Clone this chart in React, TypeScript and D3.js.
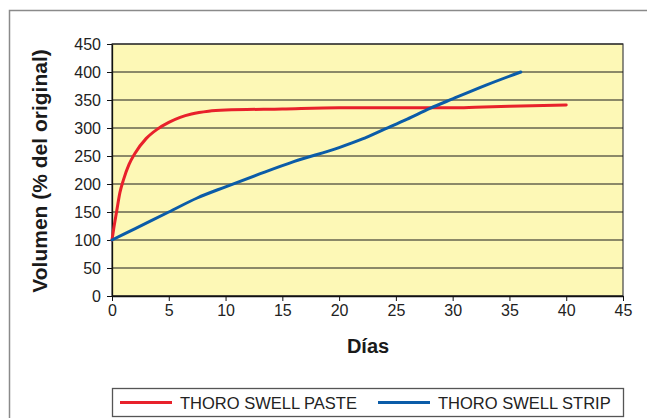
import React, { useEffect, useRef } from 'react';
import * as d3 from 'd3';

// Días / Volumen (% del original)
const pasteDays = [0, 0.15, 0.4, 0.7, 1, 1.5, 2, 3, 4, 5, 6, 7, 8.5, 10, 15, 20, 25, 30, 32, 35, 40];
const pasteVals = [100, 120, 150, 185, 207, 235, 254, 281, 298, 310, 319, 325, 330, 332, 334, 336, 336, 336, 337, 339, 341];

const stripDays = [0, 2, 5, 7.5, 10, 13, 16, 20, 22, 24, 26, 28, 30, 33, 36];
const stripVals = [100, 120, 150, 175, 195, 218, 240, 265, 280, 298, 316, 335, 352, 377, 400];

const xTicks = [0, 5, 10, 15, 20, 25, 30, 35, 40, 45];
const yTicks = [0, 50, 100, 150, 200, 250, 300, 350, 400, 450];

const seriesNames = ['THORO SWELL PASTE', 'THORO SWELL STRIP'];
const seriesColors = ['#e8212b', '#0b5ca8'];

const font = '"Liberation Sans", Arial, Helvetica, sans-serif';

const App = () => {
  const svgRef = useRef<SVGSVGElement>(null);

  useEffect(() => {
    const svg = d3.select(svgRef.current);
    svg.selectAll('*').remove();

    const margin = { left: 112, top: 44, right: 24, bottom: 122 };
    const width = 647, height = 418;
    const innerW = width - margin.left - margin.right;
    const innerH = height - margin.top - margin.bottom;

    // outer frame
    svg.append('rect')
      .attr('x', 9.5).attr('y', 10.5).attr('width', 700).attr('height', 500)
      .attr('fill', 'white').attr('stroke', '#8a8a8a').attr('stroke-width', 1.5);

    const x = d3.scaleLinear().domain([0, 45]).range([0, innerW]);
    const y = d3.scaleLinear().domain([0, 450]).range([innerH, 0]);

    const g = svg.append('g').attr('transform', `translate(${margin.left},${margin.top})`);

    g.append('rect').attr('width', innerW).attr('height', innerH)
      .attr('fill', '#fdf8b6').attr('stroke', '#444').attr('stroke-width', 1.2);

    g.selectAll('line.grid').data(yTicks).join('line')
      .attr('class', 'grid')
      .attr('x1', 0).attr('x2', innerW)
      .attr('y1', d => y(d)).attr('y2', d => y(d))
      .attr('stroke', '#1a1a1a').attr('stroke-width', 1);

    const yAxis = g.append('g')
      .call(d3.axisLeft(y).tickValues(yTicks).tickSize(5).tickPadding(6).tickSizeOuter(0));
    const xAxis = g.append('g')
      .attr('transform', `translate(0,${innerH})`)
      .call(d3.axisBottom(x).tickValues(xTicks).tickSize(5).tickPadding(4).tickSizeOuter(0));

    [yAxis, xAxis].forEach(a => {
      a.select('.domain').attr('stroke', '#111').attr('stroke-width', 1.3);
      a.selectAll('.tick line').attr('stroke', '#111');
      a.selectAll('.tick text')
        .attr('font-family', font).attr('font-size', 16).attr('fill', '#222');
    });

    const lineGen = d3.line<[number, number]>()
      .x(d => x(d[0])).y(d => y(d[1]))
      .curve(d3.curveMonotoneX);

    const series: [number, number][][] = [
      pasteDays.map((d, i) => [d, pasteVals[i]]),
      stripDays.map((d, i) => [d, stripVals[i]]),
    ];

    g.selectAll('path.series').data(series).join('path')
      .attr('class', 'series')
      .attr('fill', 'none')
      .attr('stroke', (_d, i) => seriesColors[i])
      .attr('stroke-width', 3)
      .attr('stroke-linecap', 'round')
      .attr('d', d => lineGen(d));

    // axis titles
    svg.append('text')
      .attr('x', 368).attr('y', 353)
      .attr('text-anchor', 'middle')
      .attr('font-family', font).attr('font-weight', 'bold').attr('font-size', 20)
      .attr('fill', '#1a1a1a')
      .text('Días');

    svg.append('text')
      .attr('transform', 'translate(47,171) rotate(-90)')
      .attr('text-anchor', 'middle')
      .attr('font-family', font).attr('font-weight', 'bold').attr('font-size', 21)
      .attr('fill', '#1a1a1a')
      .text('Volumen (% del original)');

    // legend
    const leg = svg.append('g');
    leg.append('rect')
      .attr('x', margin.left + 0.5).attr('y', 388.5).attr('width', innerW).attr('height', 28)
      .attr('fill', 'white').attr('stroke', '#555').attr('stroke-width', 1.3);

    const legX = [120, 378];
    seriesNames.forEach((name, i) => {
      leg.append('line')
        .attr('x1', legX[i]).attr('x2', legX[i] + 52)
        .attr('y1', 402.5).attr('y2', 402.5)
        .attr('stroke', seriesColors[i]).attr('stroke-width', 3);
      leg.append('text')
        .attr('x', legX[i] + 60).attr('y', 408.5)
        .attr('font-family', font).attr('font-size', 16.5).attr('fill', '#222')
        .text(name);
    });
  }, []);

  return (
    <svg ref={svgRef} width={647} height={418}
      style={{ position: 'absolute', left: 0, top: 0, display: 'block' }} />
  );
};

export default App;
